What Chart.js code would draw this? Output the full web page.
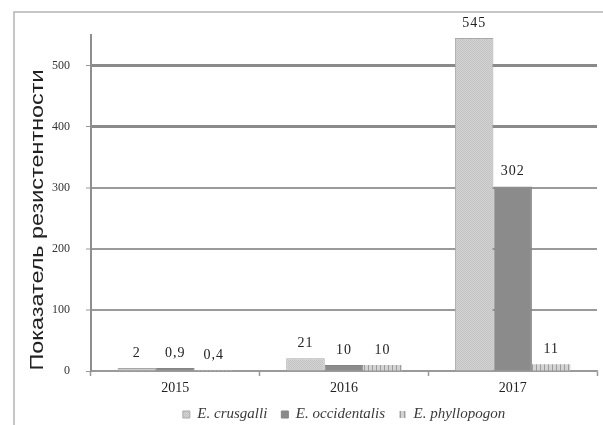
<!DOCTYPE html>
<html>
<head>
<meta charset="utf-8">
<script src="https://cdn.jsdelivr.net/npm/chart.js@4"></script>
<style>
  html, body { margin: 0; padding: 0; background: #fff; }
  #wrap { width: 603px; height: 425px; }
</style>
</head>
<body>
<div id="wrap"><canvas id="c" width="603" height="425"></canvas></div>
<script>
// Categories, series and axis ticks
const years = ['2015', '2016', '2017'];
const seriesNames = ['E. crusgalli', 'E. occidentalis', 'E. phyllopogon'];
const crusgalli = [2, 21, 545];
const occidentalis = [0.9, 10, 302];
const phyllopogon = [0.4, 10, 11];
const yTicks = [0, 100, 200, 300, 400, 500];
const yAxisTitle = 'Показатель резистентности';

// Fill patterns: fine stipple, solid dark grey, vertical hatching
function makePattern(w, h, paint) {
  const cv = document.createElement('canvas');
  cv.width = w; cv.height = h;
  const g = cv.getContext('2d');
  paint(g);
  return g.createPattern(cv, 'repeat');
}
const stipple = makePattern(2, 2, g => {
  g.fillStyle = '#d3d3d3'; g.fillRect(0, 0, 2, 2);
  g.fillStyle = '#c3c3c3'; g.fillRect(0, 0, 1, 1); g.fillRect(1, 1, 1, 1);
});
const hatch = makePattern(4, 4, g => {
  g.fillStyle = '#d4d4d4'; g.fillRect(0, 0, 4, 4);
  g.fillStyle = '#9c9c9c'; g.fillRect(0, 0, 1, 4);
});

const fmt = v => String(v).replace('.', ',');

// Light frame around the figure
const framePlugin = {
  id: 'frame',
  beforeDraw(chart) {
    const ctx = chart.ctx;
    ctx.save();
    ctx.fillStyle = '#fff';
    ctx.fillRect(0, 0, chart.width, chart.height);
    ctx.strokeStyle = '#b4b4b4';
    ctx.lineWidth = 1.5;
    ctx.strokeRect(14, 12, chart.width + 20, chart.height + 20);
    ctx.restore();
  }
};

// Value labels above each bar
const valueLabels = {
  id: 'valueLabels',
  afterDatasetsDraw(chart) {
    const ctx = chart.ctx;
    ctx.save();
    ctx.font = '14px "Liberation Serif", "Times New Roman", serif';
    ctx.fillStyle = '#222';
    ctx.textAlign = 'center';
    ctx.textBaseline = 'bottom';
    try { ctx.letterSpacing = '1px'; } catch (e) {}
    chart.data.datasets.forEach((ds, di) => {
      chart.getDatasetMeta(di).data.forEach((bar, i) => {
        ctx.fillText(fmt(ds.data[i]), bar.x, bar.y - 8);
      });
    });
    ctx.restore();
  }
};

// Rotated y-axis title, stretched along its length
const yTitle = {
  id: 'yTitle',
  afterDraw(chart) {
    const ctx = chart.ctx;
    const a = chart.chartArea;
    ctx.save();
    ctx.translate(38.5, (a.top + a.bottom) / 2 + 17);
    ctx.rotate(-Math.PI / 2);
    ctx.scale(1.3, 1);
    ctx.font = '18px "Liberation Sans", Arial, sans-serif';
    ctx.fillStyle = '#222';
    ctx.textAlign = 'center';
    ctx.textBaseline = 'middle';
    ctx.fillText(yAxisTitle, 0, 0);
    ctx.restore();
  }
};

new Chart(document.getElementById('c'), {
  type: 'bar',
  data: {
    labels: years,
    datasets: [
      { label: seriesNames[0], data: crusgalli, backgroundColor: stipple, borderColor: '#a8a8a8', borderWidth: 1, minBarLength: 3 },
      { label: seriesNames[1], data: occidentalis, backgroundColor: '#8b8b8b', borderColor: '#858585', borderWidth: 1, minBarLength: 3 },
      { label: seriesNames[2], data: phyllopogon, backgroundColor: hatch, borderColor: '#b0b0b0', borderWidth: 0 }
    ]
  },
  options: {
    responsive: false,
    animation: false,
    devicePixelRatio: 1,
    layout: { padding: { top: 35, right: 6, left: 0, bottom: 2 } },
    datasets: { bar: { categoryPercentage: 0.685, barPercentage: 1.0 } },
    plugins: {
      tooltip: { enabled: false },
      legend: {
        position: 'bottom',
        fullSize: false,
        maxHeight: 30,
        labels: {
          boxWidth: 7,
          boxHeight: 7,
          padding: 14,
          color: '#3a3a3a',
          font: { family: '"Liberation Serif", "Times New Roman", serif', size: 15, style: 'italic' }
        }
      }
    },
    scales: {
      x: {
        grid: { display: true, drawOnChartArea: false, drawTicks: true, tickLength: 5, color: '#999', tickWidth: 1.5 },
        border: { display: true, color: '#9a9a9a', width: 1.5 },
        ticks: { color: '#222', padding: 4, font: { family: '"Liberation Serif", "Times New Roman", serif', size: 14 } },
        afterFit(scale) { scale.height = 22; }
      },
      y: {
        min: 0,
        max: 550,
        afterBuildTicks(axis) { axis.ticks = yTicks.map(v => ({ value: v })); },
        grid: {
          color: c => (c.tick && c.tick.value >= 400) ? '#8a8a8a' : '#9a9a9a',
          lineWidth: c => {
            const v = c.tick ? c.tick.value : 0;
            if (v === 0) return 1;
            return v >= 400 ? 3 : 2;
          },
          tickLength: 5,
          tickWidth: 1,
          tickColor: '#999'
        },
        border: { display: true, color: '#8e8e8e', width: 2 },
        ticks: { color: '#333', padding: 16, font: { family: '"Liberation Serif", "Times New Roman", serif', size: 12 } },
        afterFit(scale) { scale.width = 91; }
      }
    }
  },
  plugins: [framePlugin, valueLabels, yTitle]
});
</script>
</body>
</html>
